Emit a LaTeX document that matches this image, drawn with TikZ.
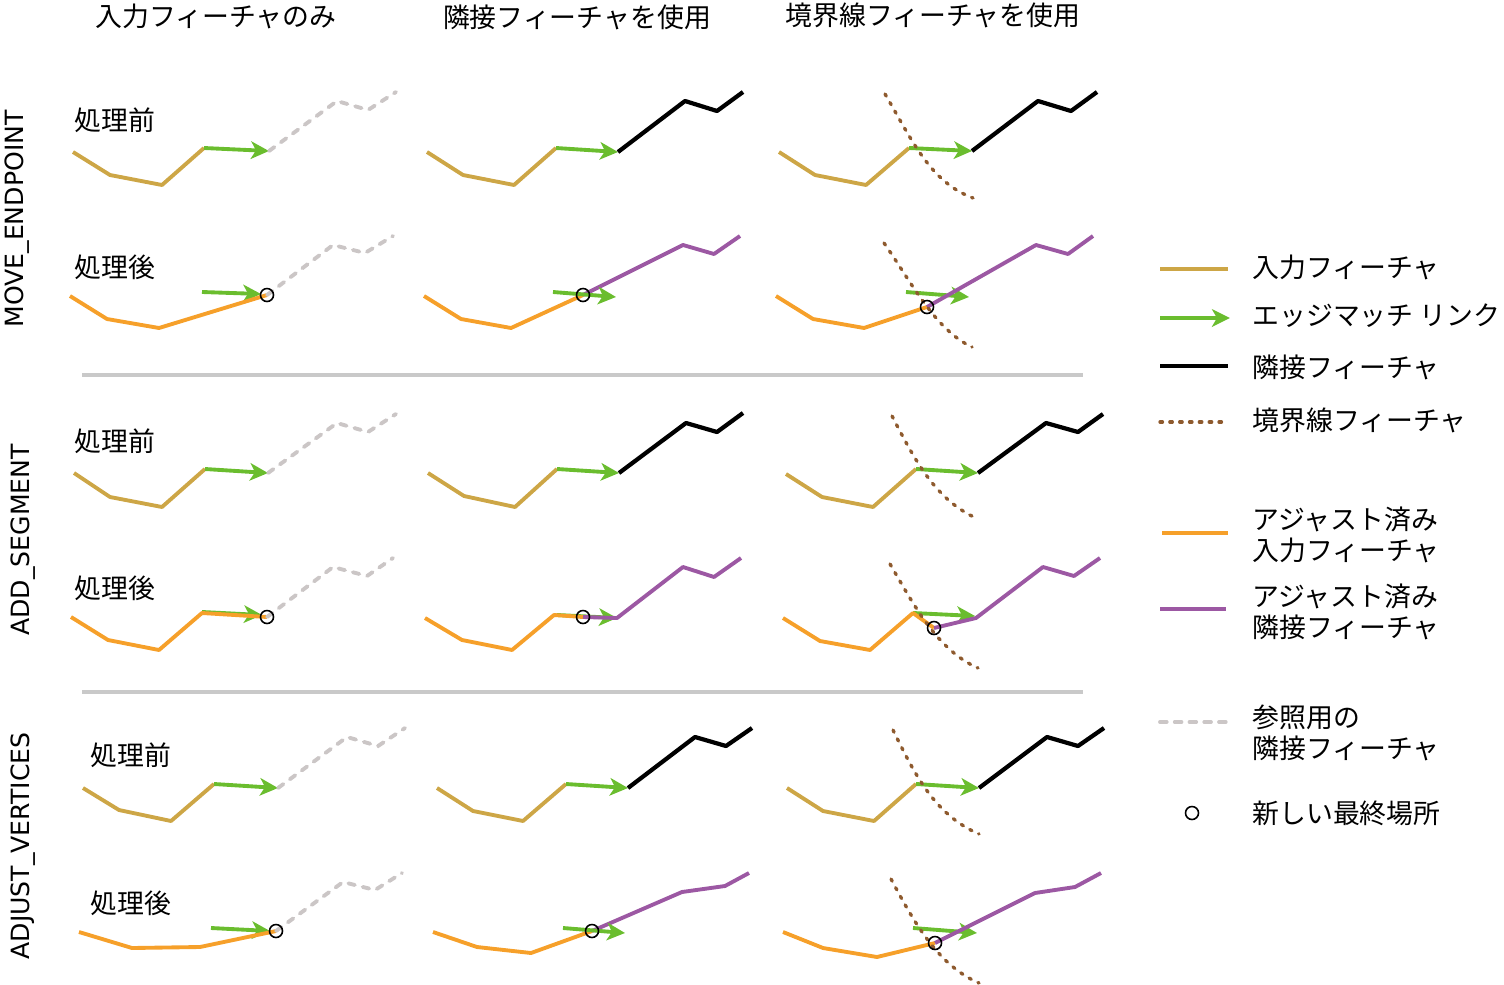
\documentclass[tikz,border=0pt]{standalone}
\usepackage{fontspec}
\setmainfont{Noto Sans CJK JP}
\newfontfamily\latinfont{DejaVu Sans}
\usetikzlibrary{arrows.meta}
\definecolor{infeatc}{HTML}{CDA646}
\definecolor{linkgreen}{HTML}{6ABD2E}
\definecolor{adjorange}{HTML}{F6A02A}
\definecolor{adjpurple}{HTML}{9C58A3}
\definecolor{bndbrown}{HTML}{8E5A2E}
\definecolor{refgray}{HTML}{CBC6C6}
\definecolor{sepgray}{HTML}{C9C9C9}

\begin{document}
\begin{tikzpicture}[
  x=0.02cm, y=-0.02cm,
  every node/.style={inner sep=0pt, font=\fontsize{15.3pt}{18pt}\selectfont},
  infeat/.style={infeatc, line width=2.2pt, line join=round},
  nbrfeat/.style={black, line width=2.4pt, line join=round},
  adjin/.style={adjorange, line width=2.2pt, line join=round},
  adjnbr/.style={adjpurple, line width=2.2pt, line join=round},
  refnbr/.style={refgray, line width=2.2pt, line cap=round, dash pattern={on 3.8pt off 4.6pt}},
  bndfeat/.style={bndbrown, line width=1.9pt, line cap=round, dash pattern={on 1.4pt off 4.2pt}},
  edgelink/.style={-{Stealth[length=3.6mm, width=3.5mm, inset=1mm]}, linkgreen, line width=2.2pt},
  newloc/.style={circle, draw=black, line width=0.9pt, minimum size=0.26cm},
  sepline/.style={sepgray, line width=2.8pt},
  rowlbl/.style={anchor=west},
  oplbl/.style={anchor=base, rotate=90, font=\latinfont\fontsize{14.3pt}{17pt}\selectfont},
  legtxt/.style={anchor=west, align=left}
]
\useasboundingbox (0,0) rectangle (1504,984);

%% Column headers
\node (hdinput) at (216,16) {入力フィーチャのみ};
\node (hdnbr) at (577,17) {隣接フィーチャを使用};
\node (hdbnd) at (933,15) {境界線フィーチャを使用};

%% Operation labels
\node[oplbl] (opmove) at (23,219) {MOVE\_ENDPOINT};
\node[oplbl] (opadd) at (30,540) {ADD\_SEGMENT};
\node[oplbl] (opadj) at (30,846) {ADJUST\_VERTICES};

%% Before / after labels
\node[rowlbl] (bef1) at (74,120) {処理前};
\node[rowlbl] (aft1) at (74,267) {処理後};
\node[rowlbl] (bef2) at (74,441) {処理前};
\node[rowlbl] (aft2) at (74,588) {処理後};
\node[rowlbl] (bef3) at (90,755) {処理前};
\node[rowlbl] (aft3) at (90,903) {処理後};

%% Separators
\draw[sepline] (82,375) -- (1083,375);
\draw[sepline] (82,692) -- (1083,692);

%% Row 1: MOVE_ENDPOINT
% before
\draw[infeat] (73,152) -- (110,175) -- (162,185) -- (204,148);
\draw[edgelink] (204,148) -- (269,151);
\draw[refnbr] (269,151) -- (337,101) -- (368,110) -- (396,92);
\draw[infeat] (427,152) -- (463,175) -- (514,185) -- (556,148);
\draw[edgelink] (556,148) -- (618,152);
\draw[nbrfeat] (618,152) -- (685,101) -- (717,111) -- (743,92);
\draw[infeat] (779,152) -- (815,175) -- (866,185) -- (909,148);
\draw[edgelink] (909,148) -- (972,151);
\draw[nbrfeat] (972,151) -- (1038,101) -- (1071,111) -- (1097,92);
\draw[bndfeat] (885,94) .. controls (912,140) and (930,182) .. (973,198);
% after
\draw[edgelink] (202,292) -- (261,294);
\draw[adjin] (70,296) -- (107,319) -- (159,328) -- (267,295);
\draw[refnbr] (267,295) -- (333,245) -- (365,253) -- (393,236);
\draw[adjin] (424,296) -- (461,319) -- (511,328) -- (583,295);
\draw[adjnbr] (583,295) -- (683,245) -- (714,254) -- (740,236);
\draw[edgelink] (553,292) -- (616,297);
\draw[edgelink] (906,292) -- (969,297);
\draw[adjin] (776,296) -- (813,319) -- (864,328) -- (927,307);
\draw[adjnbr] (927,307) -- (1036,245) -- (1068,254) -- (1093,236);
\draw[bndfeat] (884,243) .. controls (910,280) and (935,330) .. (972,347);

%% Row 2: ADD_SEGMENT
% before
\draw[infeat] (74,473) -- (110,497) -- (162,507) -- (205,469);
\draw[edgelink] (205,469) -- (268,473);
\draw[refnbr] (268,473) -- (337,423) -- (368,432) -- (396,414);
\draw[infeat] (428,473) -- (464,496) -- (515,507) -- (557,469);
\draw[edgelink] (557,469) -- (619,473);
\draw[nbrfeat] (619,473) -- (686,423) -- (717,432) -- (743,413);
\draw[infeat] (786,474) -- (822,497) -- (873,507) -- (916,469);
\draw[edgelink] (916,469) -- (978,473);
\draw[nbrfeat] (978,473) -- (1046,423) -- (1078,432) -- (1103,414);
\draw[bndfeat] (892,416) .. controls (915,460) and (935,500) .. (978,519);
% after
\draw[edgelink] (202,612) -- (262,615);
\draw[adjin] (71,617) -- (108,640) -- (159,650) -- (202,613) -- (267,617);
\draw[refnbr] (267,617) -- (333,567) -- (367,576) -- (393,558);
\draw[edgelink] (557,615) -- (617,618);
\draw[adjin] (425,618) -- (462,640) -- (512,650) -- (554,615) -- (583,617);
\draw[adjnbr] (583,617) -- (617,618) -- (683,567) -- (714,577) -- (741,558);
\draw[edgelink] (913,613) -- (975,616);
\draw[adjin] (783,618) -- (820,641) -- (870,650) -- (913,613) -- (934,628);
\draw[adjnbr] (934,628) -- (976,618) -- (1043,567) -- (1074,576) -- (1100,558);
\draw[bndfeat] (890,564) .. controls (914,605) and (937,650) .. (978,668);

%% Row 3: ADJUST_VERTICES
% before
\draw[infeat] (83,788) -- (119,810) -- (171,821) -- (214,784);
\draw[edgelink] (214,784) -- (278,788);
\draw[refnbr] (278,788) -- (347,737) -- (378,746) -- (405,728);
\draw[infeat] (437,788) -- (473,811) -- (523,821) -- (566,784);
\draw[edgelink] (566,784) -- (628,788);
\draw[nbrfeat] (628,788) -- (695,737) -- (726,746) -- (752,728);
\draw[infeat] (787,788) -- (823,811) -- (874,821) -- (916,784);
\draw[edgelink] (916,784) -- (979,788);
\draw[nbrfeat] (979,788) -- (1047,737) -- (1078,746) -- (1104,728);
\draw[bndfeat] (893,730) .. controls (915,775) and (935,815) .. (979,834);
% after
\draw[edgelink] (211,928) -- (270,931);
\draw[adjin] (79,932) -- (132,948) -- (200,947) -- (276,931);
\draw[refnbr] (276,931) -- (343,882) -- (375,890) -- (402,873);
\draw[adjin] (433,932) -- (477,947) -- (531,953) -- (592,931);
\draw[adjnbr] (592,931) -- (682,892) -- (725,886) -- (749,873);
\draw[edgelink] (563,928) -- (625,933);
\draw[edgelink] (913,928) -- (977,933);
\draw[adjin] (783,932) -- (823,948) -- (877,957) -- (935,943);
\draw[adjnbr] (935,943) -- (1035,893) -- (1075,887) -- (1101,873);
\draw[bndfeat] (891,879) .. controls (913,920) and (937,965) .. (979,983);

%% New end locations
\node[newloc] (nl11) at (267,295) {};
\node[newloc] (nl12) at (583,295) {};
\node[newloc] (nl13) at (927,307) {};
\node[newloc] (nl21) at (267,617) {};
\node[newloc] (nl22) at (583,617) {};
\node[newloc] (nl23) at (934,628) {};
\node[newloc] (nl31) at (276,931) {};
\node[newloc] (nl32) at (592,931) {};
\node[newloc] (nl33) at (935,943) {};

%% Legend
\draw[infeat] (1160,269) -- (1228,269);
\node[legtxt] (lginput) at (1252,267) {入力フィーチャ};
\draw[edgelink] (1160,318) -- (1230,318);
\node[legtxt] (lglink) at (1252,316) {エッジマッチ リンク};
\draw[nbrfeat] (1160,366) -- (1228,366);
\node[legtxt] (lgnbr) at (1252,367) {隣接フィーチャ};
\draw[bndfeat] (1160,422) -- (1228,422);
\node[legtxt] (lgbnd) at (1252,420) {境界線フィーチャ};
\draw[adjin] (1162,533) -- (1228,533);
\node[legtxt] (lgadjin) at (1252,535) {アジャスト済み\\入力フィーチャ};
\draw[adjnbr] (1160,609) -- (1226,609);
\node[legtxt] (lgadjnbr) at (1252,612) {アジャスト済み\\隣接フィーチャ};
\draw[refnbr] (1160,722) -- (1228,722);
\node[legtxt] (lgref) at (1252,733) {参照用の\\隣接フィーチャ};
\node[newloc] (lgcirc) at (1192,813) {};
\node[legtxt] (lgnew) at (1252,813) {新しい最終場所};

\end{tikzpicture}
\end{document}
